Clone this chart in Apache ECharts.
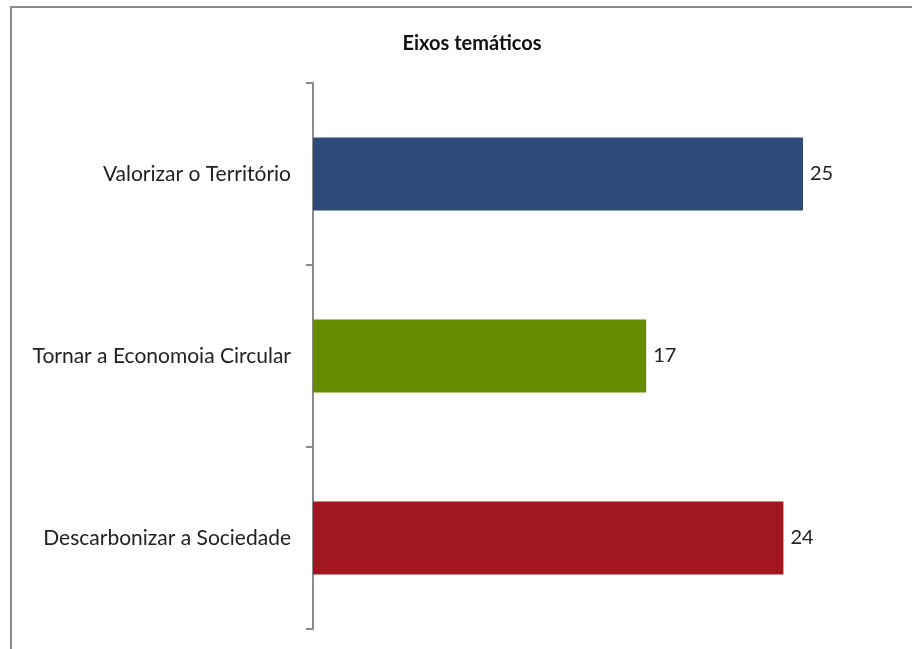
<!DOCTYPE html>
<html><head><meta charset="utf-8">
<script src="https://cdn.jsdelivr.net/npm/echarts@6/dist/echarts.min.js"></script>
<style>html,body{margin:0;padding:0;background:#fff}#c{width:912px;height:649px}</style>
</head><body><div id="c"></div>
<script>
const categories = ['Valorizar o Território', 'Tornar a Economoia Circular', 'Descarbonizar a Sociedade'];
const values = [25, 17, 24];
const colors = ['#2D4B78', '#678C00', '#A2171F'];
const title = 'Eixos temáticos';

const chart = echarts.init(document.getElementById('c'), null, {renderer: 'canvas'});
chart.setOption({
  animation: false,
  backgroundColor: '#fff',
  title: {text: title, left: 467, top: 29, textAlign: 'center',
    textStyle: {fontFamily: 'Lato', fontWeight: 'bold', fontSize: 20, color: '#111'}},
  graphic: [{type: 'rect', shape: {x: 11, y: 7, width: 1000, height: 1000},
    style: {fill: 'none', stroke: '#8c8c8c', lineWidth: 2}, silent: true}],
  grid: {left: 313, top: 83, width: 588, height: 546, containLabel: false},
  xAxis: {type: 'value', min: 0, max: 30, show: false},
  yAxis: {type: 'category', data: categories, inverse: true,
    axisLine: {show: true, lineStyle: {color: '#8a8a8a', width: 2}},
    axisTick: {show: true, length: 7, lineStyle: {color: '#8a8a8a', width: 2}},
    axisLabel: {margin: 22, fontFamily: 'Lato', fontSize: 21, color: '#222'},
    splitLine: {show: false}},
  series: [{type: 'bar', data: values.map((v, i) => ({value: v, itemStyle: {color: colors[i]}})),
    barWidth: '40%',
    label: {show: true, position: 'right', distance: 7, fontFamily: 'Lato', fontSize: 20, color: '#222'}}]
});
</script></body></html>
